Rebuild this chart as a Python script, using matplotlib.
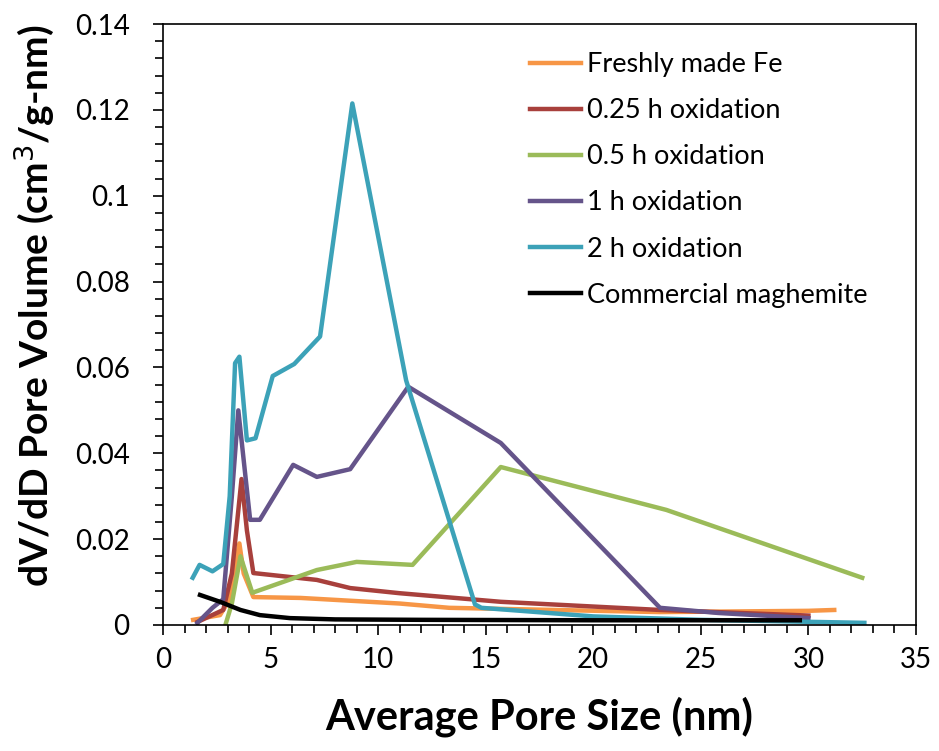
import matplotlib
matplotlib.use("Agg")
import matplotlib.pyplot as plt
from matplotlib.ticker import MultipleLocator, FuncFormatter

plt.rcParams['font.family'] = ['Lato', 'DejaVu Sans']

# pore size (nm) / dV/dD (cm3/g-nm) for each sample
fresh_x = [1.4, 2.65, 3.1, 3.55, 3.75, 4.2, 6.4, 11.0, 13.3, 23.1, 30.0, 31.2]
fresh_y = [0.0012, 0.0023, 0.006, 0.019, 0.012, 0.0065, 0.0063, 0.005, 0.004, 0.003, 0.0033, 0.0035]

h025_x = [1.6, 2.8, 3.2, 3.65, 3.9, 4.2, 7.15, 8.7, 11.0, 15.7, 23.1, 30.0]
h025_y = [0.0007, 0.0035, 0.012, 0.034, 0.022, 0.0121, 0.0105, 0.0086, 0.0074, 0.0054, 0.0035, 0.0022]

h05_x = [2.9, 3.2, 3.6, 4.15, 7.15, 9.0, 11.6, 15.7, 23.4, 32.5]
h05_y = [0.0, 0.005, 0.016, 0.0075, 0.0128, 0.0147, 0.014, 0.0368, 0.0268, 0.011]

h1_x = [1.6, 2.3, 2.8, 3.2, 3.5, 4.05, 4.5, 6.05, 7.15, 8.7, 11.4, 15.7, 23.1, 25.8, 30.0]
h1_y = [0.0005, 0.004, 0.006, 0.03, 0.05, 0.0245, 0.0245, 0.0373, 0.0345, 0.0363, 0.0555, 0.0424, 0.004, 0.0028, 0.0016]

h2_x = [1.38, 1.7, 2.3, 2.8, 3.1, 3.35, 3.55, 3.9, 4.3, 5.1, 6.1, 7.3, 8.8, 11.3, 14.5, 14.8, 20.0, 25.0, 32.6]
h2_y = [0.011, 0.014, 0.0125, 0.0142, 0.03, 0.061, 0.0625, 0.043, 0.0435, 0.058, 0.0608, 0.0672, 0.1215, 0.0570, 0.0048, 0.004, 0.002, 0.0012, 0.0005]

mag_x = [1.72, 2.65, 3.6, 4.5, 5.9, 8.0, 12.0, 20.0, 29.6]
mag_y = [0.007, 0.0054, 0.0035, 0.0023, 0.0016, 0.0013, 0.0012, 0.0011, 0.0011]

labels = ["Freshly made Fe", "0.25 h oxidation", "0.5 h oxidation",
          "1 h oxidation", "2 h oxidation", "Commercial maghemite"]
colors = ["#F79646", "#A8403C", "#9BBB59", "#65548A", "#3CA2B8", "#000000"]

fig = plt.figure(figsize=(9.39, 7.51), dpi=100)
ax = fig.add_axes([0.1736, 0.1678, 0.8019, 0.8002])

series = [(fresh_x, fresh_y), (h025_x, h025_y), (h05_x, h05_y),
          (h1_x, h1_y), (h2_x, h2_y), (mag_x, mag_y)]
for (x, y), lab, c in zip(series, labels, colors):
    ax.plot(x, y, color=c, lw=3.2, label=lab, solid_joinstyle='round')

ax.set_xlim(0, 35)
ax.set_ylim(0, 0.14)
ax.xaxis.set_major_locator(MultipleLocator(5))
ax.xaxis.set_minor_locator(MultipleLocator(1))
ax.yaxis.set_major_locator(MultipleLocator(0.02))
ax.yaxis.set_minor_locator(MultipleLocator(0.004))
ax.yaxis.set_major_formatter(FuncFormatter(lambda v, p: "%g" % round(v, 3)))
ax.tick_params(which='both', direction='out', labelsize=20, top=False, right=False)
ax.tick_params(which='major', length=7, width=1.2)
ax.tick_params(which='minor', length=6, width=1.2)
ax.tick_params(axis='x', which='major', pad=9)
ax.tick_params(axis='y', which='major', pad=17)
for s in ax.spines.values():
    s.set_linewidth(1.2)

ax.set_xlabel("Average Pore Size (nm)", fontsize=30, fontweight='bold', va='center')
ax.xaxis.set_label_coords(0.5, (625 - 717) / 601)
ax.set_ylabel("dV/dD Pore Volume (cm$^3$/g-nm)", fontsize=28, fontweight='bold', va='center')
ax.yaxis.set_label_coords((34 - 163) / 753, (625 - 306) / 601)

ax.legend(loc='upper left', bbox_to_anchor=((530 - 163) / 753, (625 - 52) / 601),
          borderaxespad=0, borderpad=0, frameon=False, fontsize=19.5,
          handlelength=1.9, handletextpad=0.2, labelspacing=0.78)

fig.savefig("out.png", dpi=100)
